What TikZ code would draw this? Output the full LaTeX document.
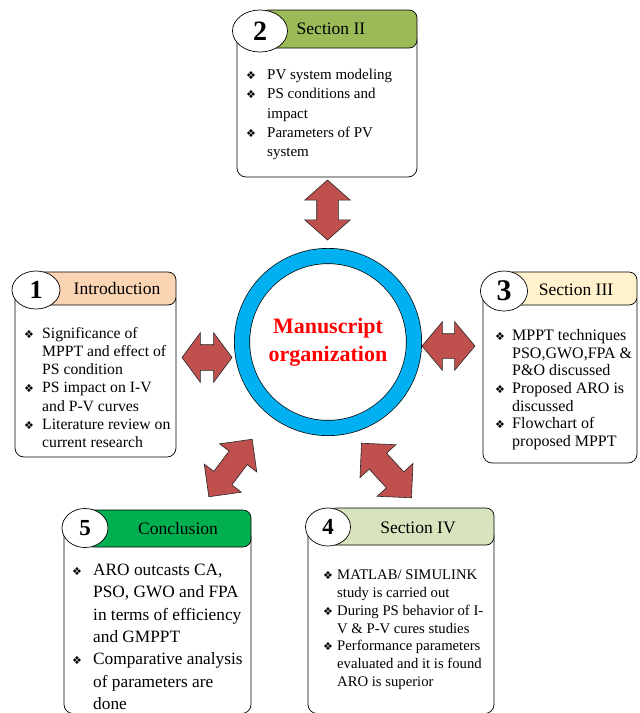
\documentclass[tikz,border=0pt]{standalone}
\usepackage{fontspec}
\setmainfont{Liberation Serif}
\newfontfamily\symfont{DejaVu Sans}
\usetikzlibrary{shapes.geometric, shapes.arrows}

\definecolor{ringblue}{HTML}{00B0F0}
\definecolor{arrowred}{HTML}{C0504D}
\definecolor{introband}{HTML}{FBD4B4}
\definecolor{secIIband}{HTML}{9BBB59}
\definecolor{secIIIband}{HTML}{FFF2CC}
\definecolor{secIVband}{HTML}{D7E4BD}
\definecolor{concband}{HTML}{00B050}

\newlength{\bulwd}
\newcommand{\bul}{\makebox[\bulwd][l]{\symfont\fontsize{11}{11}\selectfont ❖}}
\newcommand{\ind}{\hspace*{\bulwd}}

\begin{document}
\begin{tikzpicture}[
  x=1pt, y=-1pt,
  secbox/.style={draw=black, line width=0.7pt, fill=white, rounded corners=9pt},
  band/.style={draw=black, line width=0.7pt, rounded corners=8pt},
  numell/.style={ellipse, draw=black, line width=0.7pt, fill=white, inner sep=0pt},
  headtext/.style={inner sep=0pt, font=\fontsize{17.5}{20}\selectfont},
  bodytext/.style={inner sep=0pt, align=left, anchor=north west},
  ring/.style={circle, draw=black, line width=0.7pt, double=ringblue, double distance=14.6pt,
    minimum size=172pt, inner sep=0pt, align=center, text=red,
    font=\fontsize{22}{28}\selectfont\bfseries},
  arr/.style={double arrow, draw=black!85, line width=0.6pt, fill=arrowred, inner xsep=0pt,
    minimum width=0pt}
]
  \useasboundingbox (0,0) rectangle (640,713);

  % centre ring
  \node[ring] (org) at (328,342) {Manuscript\\organization};

  % Section II (top)
  \draw[secbox] (237,31) rectangle (417,177);
  \draw[band, fill=secIIband] (260,10) rectangle (417,48);
  \node[numell, minimum width=55pt, minimum height=42pt, font=\fontsize{28}{28}\selectfont\bfseries] (n2) at (260,31) {2};
  \node[headtext] (h2) at (331,29) {Section II};
  \node[bodytext, font=\fontsize{15}{19.3}\selectfont\setlength{\bulwd}{21pt}] (b2) at (246,69)
    {\bul PV system modeling\\ \bul PS conditions and\\ \ind impact\\ \bul Parameters of PV\\ \ind system};

  % Introduction (left)
  \draw[secbox] (15,290) rectangle (176,457);
  \draw[band, fill=introband] (36,272) rectangle (176,305);
  \node[numell, minimum width=48pt, minimum height=38pt, font=\fontsize{26}{26}\selectfont\bfseries] (n1) at (36,290) {1};
  \node[headtext] (h1) at (117,289) {Introduction};
  \node[bodytext, font=\fontsize{15.7}{18.2}\selectfont\setlength{\bulwd}{18pt}] (b1) at (24,327)
    {\bul Significance of\\ \ind MPPT and effect of\\ \ind PS condition\\ \bul PS impact on I-V\\ \ind and P-V curves\\ \bul Literature review on\\ \ind current research};

  % Section III (right)
  \draw[secbox] (483,291) rectangle (637,463);
  \draw[band, fill=secIIIband] (504,272) rectangle (637,305);
  \node[numell, minimum width=47pt, minimum height=40pt, font=\fontsize{30}{30}\selectfont\bfseries] (n3) at (504,291) {3};
  \node[headtext] (h3) at (576,290) {Section III};
  \node[bodytext, font=\fontsize{16}{17.7}\selectfont\setlength{\bulwd}{17pt}] (b3) at (495,329)
    {\bul MPPT techniques\\ \ind PSO,GWO,FPA \&\\ \ind P\&O discussed\\ \bul Proposed ARO is\\ \ind discussed\\ \bul Flowchart of\\ \ind proposed MPPT};

  % Section IV (bottom right)
  \draw[secbox] (308,527) rectangle (494,713.5);
  \draw[band, fill=secIVband] (328,508) rectangle (494,545);
  \node[numell, minimum width=45pt, minimum height=38pt, font=\fontsize{23}{23}\selectfont\bfseries] (n4) at (328,527) {4};
  \node[headtext] (h4) at (418,528) {Section IV};
  \node[bodytext, font=\fontsize{14.7}{17.7}\selectfont\setlength{\bulwd}{14pt}] (b4) at (323,570)
    {\bul MATLAB/ SIMULINK\\ \ind study is carried out\\ \bul During PS behavior of I-\\ \ind V \& P-V cures studies\\ \bul Performance parameters\\ \ind evaluated and it is found\\ \ind ARO is superior};

  % Conclusion (bottom left)
  \draw[secbox] (64,528) rectangle (251,713.5);
  \draw[band, fill=concband] (85,510) rectangle (251,547);
  \node[numell, minimum width=46pt, minimum height=39pt, font=\fontsize{23}{23}\selectfont\bfseries] (n5) at (85,528) {5};
  \node[headtext] (h5) at (178,529) {Conclusion};
  \node[bodytext, font=\fontsize{17.3}{22.3}\selectfont\setlength{\bulwd}{21pt}] (b5) at (72,564)
    {\bul ARO outcasts CA,\\ \ind PSO, GWO and FPA\\ \ind in terms of efficiency\\ \ind and GMPPT\\ \bul Comparative analysis\\ \ind of parameters are\\ \ind done};

  % two-way arrows between ring and sections
  \node[arr, minimum height=60pt, inner ysep=10.5pt, double arrow head extend=12pt, double arrow tip angle=97, rotate=90] (a2) at (327.5,210) {};
  \node[arr, minimum height=50pt, inner ysep=12.5pt, double arrow head extend=12pt, double arrow tip angle=107] (a1) at (207,357.5) {};
  \node[arr, minimum height=53pt, inner ysep=12pt, double arrow head extend=12pt, double arrow tip angle=100] (a3) at (448.5,346) {};
  \node[arr, minimum height=72pt, inner ysep=11pt, double arrow head extend=12pt, rotate=53] (a5) at (230.5,468) {};
  \node[arr, minimum height=74pt, inner ysep=11.5pt, double arrow head extend=12.5pt, rotate=-47.5] (a4) at (386.5,470.5) {};
\end{tikzpicture}
\end{document}
